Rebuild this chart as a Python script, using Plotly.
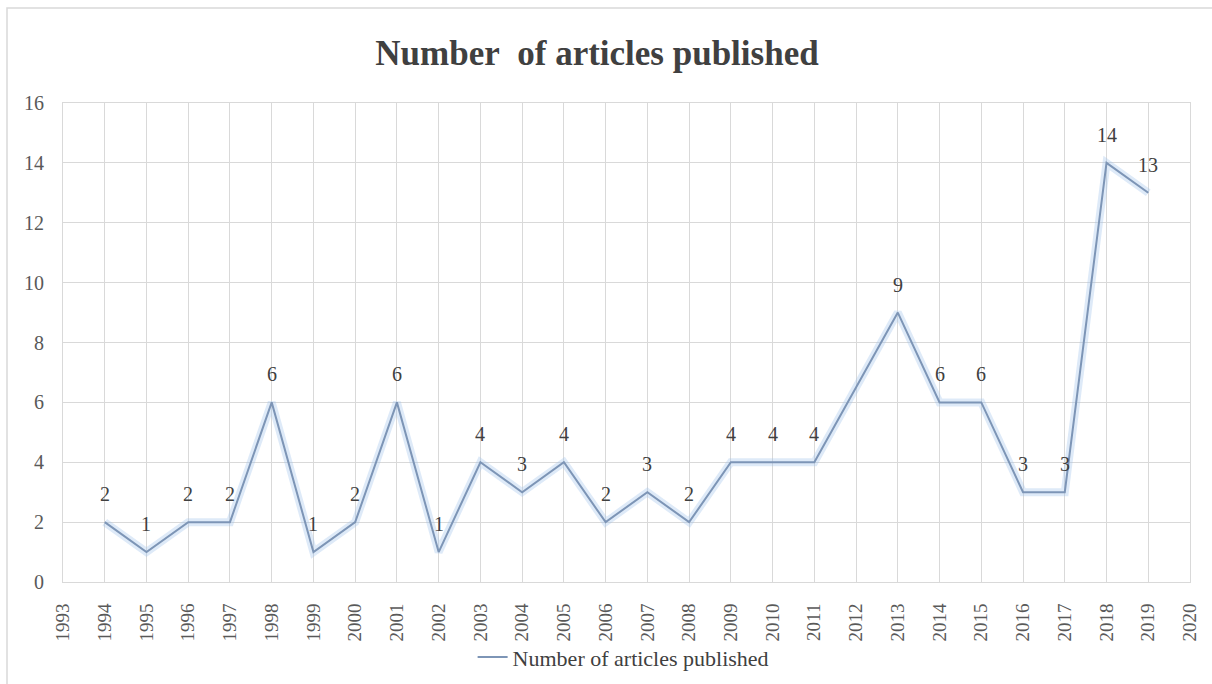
import plotly.graph_objects as go

# Articles published per year (2012 has no recorded value; the line bridges it)
years = list(range(1994, 2020))
articles = [2, 1, 2, 2, 6, 1, 2, 6, 1, 4, 3, 4, 2, 3, 2, 4, 4, 4, None, 9, 6, 6, 3, 3, 14, 13]
y_ticks = [0, 2, 4, 6, 8, 10, 12, 14, 16]

serif = "Liberation Serif, Times New Roman, serif"
line_color = "#7d95b6"
text_color = "#404040"
tick_color = "#595959"
grid_color = "#d9d9d9"

fig = go.Figure()

# soft halo under the line
fig.add_trace(go.Scatter(
    x=years, y=articles, mode="lines", connectgaps=True,
    line=dict(color="rgba(160,195,235,0.35)", width=8),
    hoverinfo="skip", showlegend=False,
))
fig.add_trace(go.Scatter(
    x=years, y=articles, mode="lines", connectgaps=True,
    name="Number of articles published",
    line=dict(color=line_color, width=2),
))

# value labels above each point
annotations = [
    dict(x=yr, y=v, text=str(v), showarrow=False, yshift=28,
         xanchor="center", yanchor="middle",
         font=dict(family=serif, size=20, color=text_color))
    for yr, v in zip(years, articles) if v is not None
]

fig.update_layout(
    width=1212, height=684,
    margin=dict(l=63, r=22, t=103, b=102, autoexpand=False),
    paper_bgcolor="white", plot_bgcolor="white",
    title=dict(
        text="<b>Number&nbsp; of articles published</b>",
        x=(597 - 63) / 1127, xref="paper", xanchor="center",
        y=1 - 53 / 684, yanchor="middle",
        font=dict(family=serif, size=35, color=text_color),
    ),
    xaxis=dict(
        range=[1993, 2020], tickmode="linear", tick0=1993, dtick=1,
        tickangle=-90, showgrid=True, gridcolor=grid_color, gridwidth=1,
        zeroline=False, showline=True, linecolor=grid_color, mirror=True,
        ticks="", ticklabelstandoff=13, automargin=False,
        tickfont=dict(family=serif, size=19, color=tick_color),
    ),
    yaxis=dict(
        range=[0, 16], tickvals=y_ticks,
        showgrid=True, gridcolor=grid_color, gridwidth=1,
        zeroline=False, showline=True, linecolor=grid_color, mirror=True,
        ticks="", ticklabelstandoff=14, automargin=False,
        tickfont=dict(family=serif, size=20, color=tick_color),
    ),
    legend=dict(
        orientation="h", x=0.497, xanchor="center", y=-0.157, yanchor="middle",
        bgcolor="rgba(0,0,0,0)",
        font=dict(family=serif, size=22, color=text_color),
    ),
    annotations=annotations,
    shapes=[dict(
        type="rect", xref="paper", yref="paper",
        x0=(7 - 63) / 1127, x1=(1230 - 63) / 1127,
        y0=(582 - 700) / 479, y1=(582 - 8) / 479,
        line=dict(color=grid_color, width=1.5), layer="below",
    )],
)

fig.write_html("out.html")
